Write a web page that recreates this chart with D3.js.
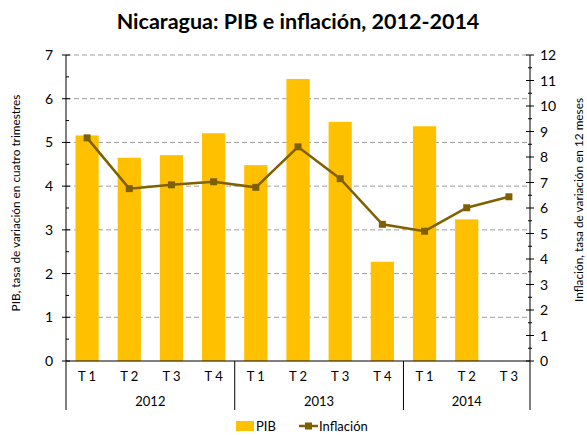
<!DOCTYPE html>
<html>
<head>
<meta charset="utf-8">
<script src="https://cdn.jsdelivr.net/npm/d3@7"></script>
<style>
  body { margin: 0; background: #fff; }
  svg { display: block; font-family: Lato, 'Open Sans', sans-serif; }
</style>
</head>
<body>
<svg id="chart" width="587" height="435"></svg>
<script>
const quarters = ['T 1', 'T 2', 'T 3', 'T 4', 'T 1', 'T 2', 'T 3', 'T 4', 'T 1', 'T 2', 'T 3'];
const years = ['2012', '2013', '2014'];
const yearSpans = [4, 4, 3];
const pib = [5.16, 4.65, 4.71, 5.21, 4.48, 6.45, 5.47, 2.27, 5.37, 3.24, null];
const inflacion = [8.75, 6.76, 6.91, 7.03, 6.81, 8.40, 7.15, 5.36, 5.09, 6.01, 6.44];

const svg = d3.select('#chart');
const plotLeft = 66, plotRight = 530, plotTop = 55, plotBottom = 361;
const barColor = '#FFC000';
const lineColor = '#7F6000';

const x = d3.scaleBand().domain(d3.range(quarters.length)).range([plotLeft, plotRight]).paddingInner(0.45).paddingOuter(0.225);
const yL = d3.scaleLinear().domain([0, 7]).range([plotBottom, plotTop]);
const yR = d3.scaleLinear().domain([0, 12]).range([plotBottom, plotTop]);

// title
svg.append('text')
  .attr('x', 298).attr('y', 29)
  .attr('text-anchor', 'middle')
  .attr('font-size', 21.5).attr('font-weight', 'bold')
  .attr('fill', '#000')
  .text('Nicaragua: PIB e inflación, 2012-2014');

// gridlines
svg.append('g')
  .selectAll('line')
  .data(d3.range(1, 8))
  .join('line')
  .attr('x1', plotLeft).attr('x2', plotRight)
  .attr('y1', (d) => yL(d)).attr('y2', (d) => yL(d))
  .attr('stroke', '#A0A0A0')
  .attr('stroke-dasharray', '5,3');

// bars
svg.append('g')
  .selectAll('rect')
  .data(pib.map((v, i) => ({ v, i })).filter((d) => d.v != null))
  .join('rect')
  .attr('x', (d) => x(d.i))
  .attr('width', x.bandwidth())
  .attr('y', (d) => yL(d.v))
  .attr('height', (d) => yL(0) - yL(d.v))
  .attr('fill', barColor);

// line
const line = d3.line().x((d, i) => x(i) + x.bandwidth() / 2).y((d) => yR(d));
svg.append('path')
  .datum(inflacion)
  .attr('d', line)
  .attr('fill', 'none')
  .attr('stroke', lineColor)
  .attr('stroke-width', 2.5);

svg.append('g')
  .selectAll('rect')
  .data(inflacion)
  .join('rect')
  .attr('x', (d, i) => x(i) + x.bandwidth() / 2 - 3.5)
  .attr('y', (d) => yR(d) - 3.5)
  .attr('width', 7).attr('height', 7)
  .attr('fill', lineColor);

// left axis
const axL = svg.append('g');
axL.append('line').attr('x1', plotLeft).attr('x2', plotLeft).attr('y1', plotTop).attr('y2', 410).attr('stroke', '#000');
axL.selectAll('.maj').data(d3.range(0, 8)).join('line').attr('class', 'maj')
  .attr('x1', plotLeft - 4).attr('x2', plotLeft + 4)
  .attr('y1', (d) => yL(d)).attr('y2', (d) => yL(d)).attr('stroke', '#000');
axL.selectAll('.min').data(d3.range(0.5, 7, 1)).join('line').attr('class', 'min')
  .attr('x1', plotLeft).attr('x2', plotLeft + 3)
  .attr('y1', (d) => yL(d)).attr('y2', (d) => yL(d)).attr('stroke', '#000');
axL.selectAll('text').data(d3.range(0, 8)).join('text')
  .attr('x', plotLeft - 13).attr('y', (d) => yL(d) + 5)
  .attr('text-anchor', 'end').attr('font-size', 14).attr('fill', '#000')
  .text((d) => d);

// right axis
const axR = svg.append('g');
axR.append('line').attr('x1', plotRight).attr('x2', plotRight).attr('y1', plotTop).attr('y2', 410).attr('stroke', '#000');
axR.selectAll('.maj').data(d3.range(0, 13)).join('line').attr('class', 'maj')
  .attr('x1', plotRight - 4).attr('x2', plotRight + 4)
  .attr('y1', (d) => yR(d)).attr('y2', (d) => yR(d)).attr('stroke', '#000');
axR.selectAll('.min').data(d3.range(0.5, 12, 1)).join('line').attr('class', 'min')
  .attr('x1', plotRight - 2).attr('x2', plotRight + 2)
  .attr('y1', (d) => yR(d)).attr('y2', (d) => yR(d)).attr('stroke', '#000');
axR.selectAll('text').data(d3.range(0, 13)).join('text')
  .attr('x', plotRight + 10).attr('y', (d) => yR(d) + 5)
  .attr('text-anchor', 'start').attr('font-size', 14).attr('fill', '#000')
  .text((d) => d);

// axis titles
svg.append('text')
  .attr('transform', 'translate(20,203) rotate(-90)')
  .attr('text-anchor', 'middle').attr('font-size', 11.8).attr('fill', '#000')
  .text('PIB, tasa de variación en cuatro trimestres');
svg.append('text')
  .attr('transform', 'translate(583,200) rotate(-90)')
  .attr('text-anchor', 'middle').attr('font-size', 11.8).attr('fill', '#000')
  .text('Inflación, tasa de variación en 12 meses');

// x axis
const axX = svg.append('g');
axX.append('line').attr('x1', plotLeft).attr('x2', plotRight).attr('y1', plotBottom).attr('y2', plotBottom).attr('stroke', '#000');
axX.selectAll('text').data(quarters).join('text')
  .attr('x', (d, i) => x(i) + x.bandwidth() / 2).attr('y', 381)
  .attr('text-anchor', 'middle').attr('font-size', 13).attr('fill', '#000')
  .text((d) => d);

const step = x.step();
let start = 0;
years.forEach((yr, k) => {
  const x0 = plotLeft + start * step;
  const x1 = plotLeft + (start + yearSpans[k]) * step;
  if (k > 0) {
    axX.append('line').attr('x1', x0).attr('x2', x0).attr('y1', plotBottom).attr('y2', 410).attr('stroke', '#000');
  }
  axX.append('text')
    .attr('x', (x0 + x1) / 2).attr('y', 406)
    .attr('text-anchor', 'middle').attr('font-size', 13).attr('fill', '#000')
    .text(yr);
  start += yearSpans[k];
});

// legend
const lg = svg.append('g');
lg.append('rect').attr('x', 236).attr('y', 421).attr('width', 18).attr('height', 10).attr('fill', barColor);
lg.append('text').attr('x', 256).attr('y', 431).attr('font-size', 13).attr('fill', '#000').text('PIB');
lg.append('line').attr('x1', 299).attr('x2', 318).attr('y1', 426).attr('y2', 426).attr('stroke', lineColor).attr('stroke-width', 2.5);
lg.append('rect').attr('x', 305).attr('y', 422.5).attr('width', 7).attr('height', 7).attr('fill', lineColor);
lg.append('text').attr('x', 319).attr('y', 431).attr('font-size', 13).attr('fill', '#000').text('Inflación');
</script>
</body>
</html>
